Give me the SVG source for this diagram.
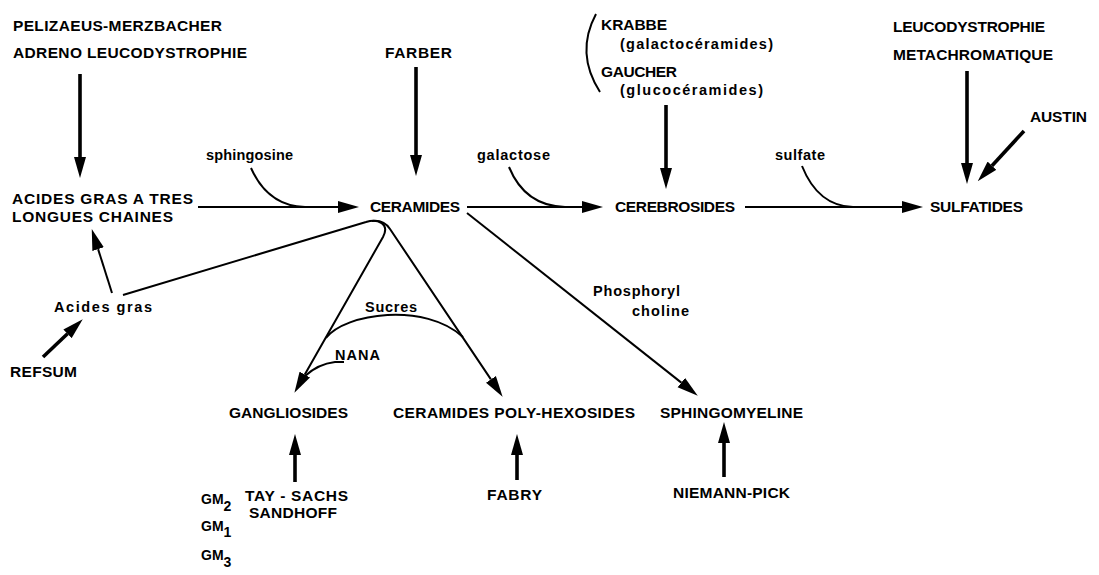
<svg xmlns="http://www.w3.org/2000/svg" width="1099" height="575" viewBox="0 0 1099 575">
<style>
text{font-family:"Liberation Sans",Arial,sans-serif;font-weight:bold;fill:#000}
.c{font-size:15.5px}
.l{font-size:14.5px}
.s{font-size:14px}
.thick{stroke:#000;stroke-width:3.6;fill:none}
.thin{stroke:#000;stroke-width:2;fill:none}
</style>
<defs>
<marker id="ah" markerUnits="userSpaceOnUse" markerWidth="21" markerHeight="13" refX="0" refY="6.5" orient="auto">
<path d="M0,0.5 L21,6.5 L0,12.5 z" fill="#000"/>
</marker>
</defs>
<rect width="1099" height="575" fill="#fff"/>

<g id="connectors">
<line class="thick" x1="80" y1="74" x2="80" y2="157" marker-end="url(#ah)"/>
<line class="thick" x1="416" y1="67" x2="416" y2="155" marker-end="url(#ah)"/>
<line class="thick" x1="666" y1="105" x2="666" y2="168" marker-end="url(#ah)"/>
<line class="thick" x1="967" y1="71" x2="967" y2="163" marker-end="url(#ah)"/>
<line class="thick" x1="1024" y1="131" x2="992" y2="165.7" marker-end="url(#ah)"/>
<line class="thick" x1="43" y1="357" x2="67.5" y2="333.8" marker-end="url(#ah)"/>
<line class="thick" x1="295" y1="482" x2="295" y2="455" marker-end="url(#ah)"/>
<line class="thick" x1="517" y1="480" x2="517" y2="455" marker-end="url(#ah)"/>
<line class="thick" x1="724" y1="477" x2="724" y2="443" marker-end="url(#ah)"/>

<line class="thin" x1="198" y1="207" x2="338" y2="207" marker-end="url(#ah)"/>
<line class="thin" x1="467" y1="207" x2="582" y2="207" marker-end="url(#ah)"/>
<line class="thin" x1="745" y1="207" x2="902" y2="207" marker-end="url(#ah)"/>
<line class="thin" x1="112" y1="293" x2="98.1" y2="249.1" marker-end="url(#ah)"/>
<line class="thin" x1="467" y1="213" x2="681.3" y2="382.6" marker-end="url(#ah)"/>

<path class="thin" d="M251,168 Q268,206 305,207"/>
<path class="thin" d="M509,167 Q525,206 565,207"/>
<path class="thin" d="M802,166 Q818,206 853,207"/>
<path class="thin" d="M596,14 Q575,53 600,92"/>

<path class="thin" d="M123,295 L366,222 C378,218 390,224 383,237 L304.8,374.6" marker-end="url(#ah)"/>
<path class="thin" d="M372,221 C380,220 386,223 390,229 L490.9,379.4" marker-end="url(#ah)"/>
<path class="thin" d="M326,338 C345,313 425,302 463,337"/>
<path class="thin" d="M344,362 L335,362 Q318,364 305,376"/>
</g>

<g id="pelizaeus"><text class="c" x="13" y="31" textLength="209" lengthAdjust="spacing">PELIZAEUS-MERZBACHER</text>
<text class="c" x="13" y="58" textLength="234" lengthAdjust="spacing">ADRENO LEUCODYSTROPHIE</text></g>
<g id="farber"><text class="c" x="385" y="58" textLength="67" lengthAdjust="spacing">FARBER</text></g>
<g id="krabbe"><text class="c" x="601" y="30" textLength="66" lengthAdjust="spacing">KRABBE</text>
<text class="l" x="620" y="49" textLength="153" lengthAdjust="spacing">(galactocéramides)</text></g>
<g id="gaucher"><text class="c" x="601" y="77" textLength="76" lengthAdjust="spacing">GAUCHER</text>
<text class="l" x="620" y="95" textLength="143" lengthAdjust="spacing">(glucocéramides)</text></g>
<g id="leucodystrophie"><text class="c" x="893" y="32" textLength="152" lengthAdjust="spacing">LEUCODYSTROPHIE</text>
<text class="c" x="893" y="60" textLength="160" lengthAdjust="spacing">METACHROMATIQUE</text></g>
<g id="austin"><text class="c" x="1030" y="122" textLength="57" lengthAdjust="spacing">AUSTIN</text></g>

<g id="sphingosine"><text class="l" x="206" y="160" textLength="87" lengthAdjust="spacing">sphingosine</text></g>
<g id="galactose"><text class="l" x="477" y="160" textLength="73" lengthAdjust="spacing">galactose</text></g>
<g id="sulfate"><text class="l" x="775" y="160" textLength="50" lengthAdjust="spacing">sulfate</text></g>

<g id="acides-gras-tlc"><text class="c" x="12" y="204" textLength="181" lengthAdjust="spacing">ACIDES GRAS A TRES</text>
<text class="c" x="12" y="222" textLength="161" lengthAdjust="spacing">LONGUES CHAINES</text></g>
<g id="ceramides"><text class="c" x="370" y="212" textLength="90" lengthAdjust="spacing">CERAMIDES</text></g>
<g id="cerebrosides"><text class="c" x="615" y="212" textLength="120" lengthAdjust="spacing">CEREBROSIDES</text></g>
<g id="sulfatides"><text class="c" x="930" y="212" textLength="93" lengthAdjust="spacing">SULFATIDES</text></g>

<g id="acides-gras"><text class="l" x="54" y="312" textLength="98" lengthAdjust="spacing">Acides gras</text></g>
<g id="refsum"><text class="c" x="10" y="377" textLength="67" lengthAdjust="spacing">REFSUM</text></g>
<g id="sucres"><text class="l" x="365" y="312" textLength="52" lengthAdjust="spacing">Sucres</text></g>
<g id="nana"><text class="l" x="335" y="360" textLength="45" lengthAdjust="spacing">NANA</text></g>
<g id="phosphoryl"><text class="l" x="593" y="296" textLength="87" lengthAdjust="spacing">Phosphoryl</text>
<text class="l" x="632" y="316" textLength="57" lengthAdjust="spacing">choline</text></g>

<g id="gangliosides"><text class="c" x="229" y="418" textLength="119" lengthAdjust="spacing">GANGLIOSIDES</text></g>
<g id="polyhexosides"><text class="c" x="393" y="418" textLength="242" lengthAdjust="spacing">CERAMIDES POLY-HEXOSIDES</text></g>
<g id="sphingomyeline"><text class="c" x="660" y="418" textLength="143" lengthAdjust="spacing">SPHINGOMYELINE</text></g>

<g id="tay-sachs"><text class="c" x="245" y="501" textLength="103" lengthAdjust="spacing">TAY - SACHS</text>
<text class="c" x="249" y="518" textLength="88" lengthAdjust="spacing">SANDHOFF</text></g>
<g id="gm"><text class="s" x="201" y="504">GM<tspan dy="7">2</tspan></text>
<text class="s" x="201" y="531">GM<tspan dy="6">1</tspan></text>
<text class="s" x="201" y="560">GM<tspan dy="7">3</tspan></text></g>
<g id="fabry"><text class="c" x="487" y="500" textLength="55" lengthAdjust="spacing">FABRY</text></g>
<g id="niemann-pick"><text class="c" x="673" y="498" textLength="117" lengthAdjust="spacing">NIEMANN-PICK</text></g>
</svg>
